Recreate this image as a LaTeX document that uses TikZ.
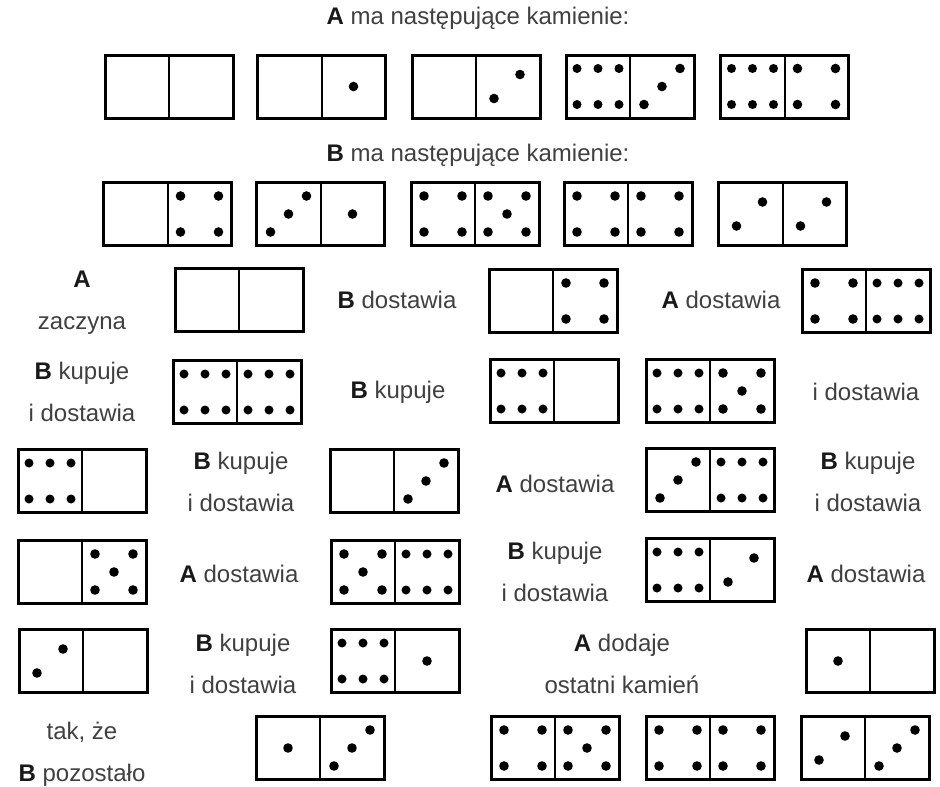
\documentclass[tikz,border=0pt]{standalone}
\usepackage{fontspec}
\setmainfont{Liberation Sans}
\definecolor{txt}{RGB}{64,64,64}
\definecolor{bold}{RGB}{25,25,25}
\newcommand{\Bf}[1]{\textbf{\color{bold}#1}}
\tikzset{
  dom/.style={draw=black, line width=3pt, minimum width=128pt, minimum height=63pt, inner sep=0pt, rectangle},
  divider/.style={black, line width=2pt},
  lbl/.style={text=txt, font=\fontsize{24}{42}\selectfont, align=center, inner sep=0pt},
}
\newcommand{\halfpips}[3]{%
  \begin{scope}[shift={(#1,#2)}]
  \ifcase#3\relax
  \or \fill (0,0) circle (4.8pt);
  \or \fill (-14,12) circle (4.8pt) (12,-12) circle (4.8pt);
  \or \fill (-18,18) circle (4.8pt) (0,0) circle (4.8pt) (18,-18) circle (4.8pt);
  \or \fill (-19,-18) circle (4.8pt) (19,-18) circle (4.8pt) (-19,18) circle (4.8pt) (19,18) circle (4.8pt);
  \or \fill (-19,-18) circle (4.8pt) (19,-18) circle (4.8pt) (-19,18) circle (4.8pt) (19,18) circle (4.8pt) (0,0) circle (4.8pt);
  \or \fill (-21,-18) circle (4.5pt) (0,-18) circle (4.5pt) (21,-18) circle (4.5pt) (-21,18) circle (4.5pt) (0,18) circle (4.5pt) (21,18) circle (4.5pt);
  \fi
  \end{scope}}
\newcommand{\domino}[5]{%
  \node[dom] (#1) at (#2,#3) {};
  \draw[divider] (#1.north) -- (#1.south);
  \halfpips{#2-32}{#3}{#4}
  \halfpips{#2+32}{#3}{#5}}
\begin{document}
\begin{tikzpicture}[x=1pt,y=-1pt]
\fill[white] (0,0) rectangle (940,787);
\useasboundingbox (0,0) rectangle (940,787);
% titles
\node[lbl] (ta) at (478,18) {\Bf{A} ma następujące kamienie:};
\node[lbl] (tb) at (478,155) {\Bf{B} ma następujące kamienie:};
% row 1
\domino{a1}{169}{86.5}{0}{0}
\domino{a2}{321.5}{86.5}{0}{1}
\domino{a3}{476}{86.5}{0}{2}
\domino{a4}{630}{86.5}{6}{3}
\domino{a5}{784.5}{86.5}{6}{4}
% row 2
\domino{b1}{167.5}{214}{0}{4}
\domino{b2}{320.5}{214}{3}{1}
\domino{b3}{475}{214}{4}{5}
\domino{b4}{628}{214}{4}{4}
\domino{b5}{782.5}{214}{2}{2}
% row 3
\node[lbl] (l31) at (82,303) {\Bf{A}\\zaczyna};
\domino{d31}{239}{300}{0}{0}
\node[lbl] (l32) at (397,300) {\Bf{B} dostawia};
\domino{d32}{553}{301}{0}{4}
\node[lbl] (l33) at (721,300) {\Bf{A} dostawia};
\domino{d33}{866}{301}{4}{6}
% row 4
\node[lbl] (l41) at (82,392) {\Bf{B} kupuje\\i dostawia};
\domino{d41}{237}{392}{6}{6}
\node[lbl] (l42) at (398,392) {\Bf{B} kupuje};
\domino{d42}{554}{391}{6}{0}
\domino{d43}{710}{391}{6}{5}
\node[lbl] (l43) at (866,392) {i dostawia};
% row 5
\domino{d51}{82}{481}{6}{0}
\node[lbl] (l51) at (241,482) {\Bf{B} kupuje\\i dostawia};
\domino{d52}{394}{481}{0}{3}
\node[lbl] (l52) at (555,484) {\Bf{A} dostawia};
\domino{d53}{710}{480}{3}{6}
\node[lbl] (l53) at (868,482) {\Bf{B} kupuje\\i dostawia};
% row 6
\domino{d61}{82}{572}{0}{5}
\node[lbl] (l61) at (239,574) {\Bf{A} dostawia};
\domino{d62}{395}{572}{5}{6}
\node[lbl] (l62) at (555,572) {\Bf{B} kupuje\\i dostawia};
\domino{d63}{710}{570}{6}{2}
\node[lbl] (l63) at (866,574) {\Bf{A} dostawia};
% row 7
\domino{d71}{83}{661}{2}{0}
\node[lbl] (l71) at (243,664) {\Bf{B} kupuje\\i dostawia};
\domino{d72}{395}{661}{6}{1}
\node[lbl] (l72) at (622,664) {\Bf{A} dodaje\\ostatni kamień};
\domino{d73}{870}{661}{1}{0}
% row 8
\node[lbl] (l81) at (82,754) {tak, że\\\Bf{B} pozostało};
\domino{d81}{320}{748}{1}{3}
\domino{d82}{555}{748}{4}{5}
\domino{d83}{710}{748}{4}{4}
\domino{d84}{865}{748}{2}{3}
\end{tikzpicture}
\end{document}
